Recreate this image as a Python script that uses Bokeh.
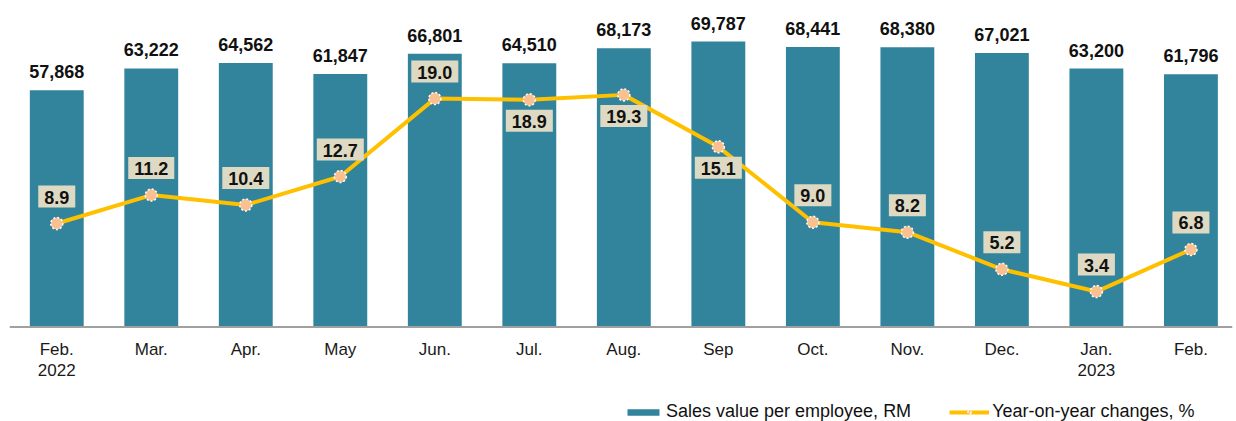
from bokeh.plotting import figure
from bokeh.models import (ColumnDataSource, Range1d, Span, LabelSet,
                          Legend, LegendItem)
from bokeh.core.properties import value
from bokeh.embed import file_html
from bokeh.resources import INLINE

# ---- data ----
months = ["Feb.\n2022", "Mar.", "Apr.", "May", "Jun.", "Jul.", "Aug.", "Sep",
          "Oct.", "Nov.", "Dec.", "Jan.\n2023", "Feb."]
sales = [57868, 63222, 64562, 61847, 66801, 64510, 68173, 69787,
         68441, 68380, 67021, 63200, 61796]
yoy = [8.9, 11.2, 10.4, 12.7, 19.0, 18.9, 19.3, 15.1, 9.0, 8.2, 5.2, 3.4, 6.8]
label_side = ["above", "above", "above", "above", "above", "below", "below",
              "below", "above", "above", "above", "above", "above"]

# ---- styles ----
BAR = "#31849B"
LINE = "#FFC000"
MARK = "#FAC090"
BOX = "#DDD9C3"
FONT = "Liberation Sans"

idx = list(range(len(months)))
src = ColumnDataSource(dict(
    x=idx,
    month=months,
    base=[0] * len(idx),
    sales=sales,
    sales_txt=[f"{v:,}" for v in sales],
    yoy=yoy,
    yoy_txt=[f"{v:.1f}" for v in yoy],
    dy=[-27 if s == "above" else 21 for s in label_side],
))

# The frame fills the whole picture height so that the legend at the bottom
# is not clipped; the category axis is drawn at value 0.
p = figure(width=1236, height=421, output_backend="svg", toolbar_location=None,
           x_range=Range1d(-0.5, 12.44), y_range=Range1d(-23105, 79830),
           y_axis_location=None, x_axis_location=None,
           min_border_left=9, min_border_right=4, min_border_top=0,
           min_border_bottom=0, outline_line_color=None)
p.grid.visible = False
p.extra_y_ranges = {"pct": Range1d(-7.106, 26.93)}

bars = p.vbar(x="x", top="sales", bottom="base", width=0.57, source=src,
              fill_color=BAR, line_color=None)

p.add_layout(Span(location=0, dimension="width", line_color="#A0A0A0",
                  line_width=2))

# category tick labels
p.text(x="x", y="base", text="month", source=src, text_align="center",
       text_baseline="top", y_offset=13, text_font=value(FONT),
       text_font_size="17px", text_color="#1a1a1a", text_line_height=1.1)

line = p.line(x="x", y="yoy", source=src, y_range_name="pct",
              line_color=LINE, line_width=4)
marks = p.scatter(x="x", y="yoy", source=src, y_range_name="pct", size=12,
                  fill_color=MARK, line_color="white", line_width=1.5,
                  line_dash="2 2")

bar_labels = LabelSet(x="x", y="sales", text="sales_txt", source=src,
                      text_align="center", text_baseline="alphabetic",
                      y_offset=12, text_font=value(FONT), text_font_size="18px",
                      text_font_style="bold", text_color="#111111")
p.add_layout(bar_labels)

p.text(x="x", y="yoy", text="yoy_txt", source=src, y_range_name="pct",
       text_align="center", text_baseline="middle", y_offset="dy",
       text_font=value(FONT), text_font_size="18px",
       text_font_style="bold", text_color="#111111",
       background_fill_color=BOX,
       padding=dict(left=6, right=6, top=5, bottom=4))

legend = Legend(items=[
    LegendItem(label="Sales value per employee, RM", renderers=[bars]),
    LegendItem(label="Year-on-year changes, %", renderers=[line, marks]),
], location=(614, -1), orientation="horizontal",
    border_line_color=None, background_fill_alpha=0,
    label_text_font=FONT, label_text_font_size="18px",
    label_text_color="#111111", glyph_width=40, glyph_height=8,
    label_standoff=3, spacing=38, padding=0, margin=0)
p.add_layout(legend)

open("out.html", "w").write(file_html(p, INLINE))
